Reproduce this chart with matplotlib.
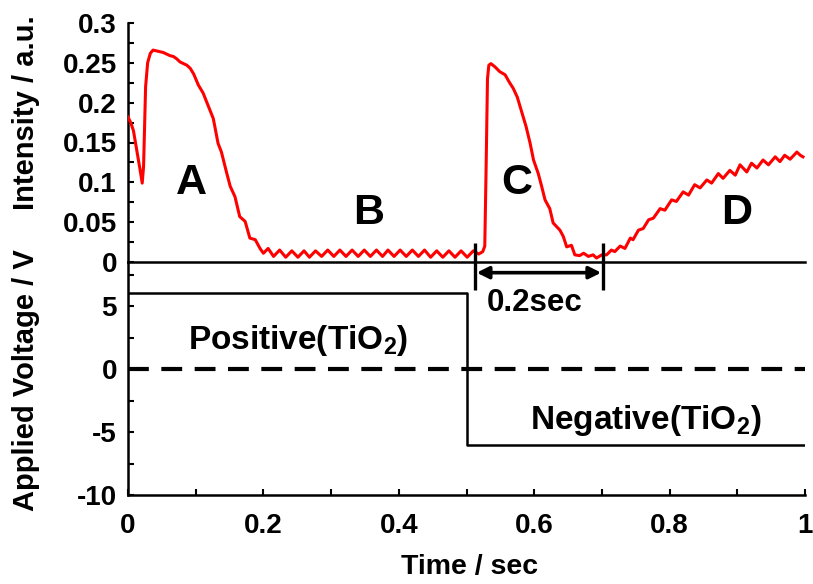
import matplotlib
matplotlib.use("Agg")
import matplotlib.pyplot as plt
from matplotlib.ticker import MultipleLocator

plt.rcParams['font.family'] = ['Liberation Sans', 'DejaVu Sans']
plt.rcParams['font.weight'] = 'bold'
plt.rcParams['mathtext.fontset'] = 'custom'
plt.rcParams['mathtext.rm'] = 'Liberation Sans:bold'
plt.rcParams['mathtext.it'] = 'Liberation Sans:bold'
plt.rcParams['mathtext.bf'] = 'Liberation Sans:bold'

# ---- data ----
time_s = [
    0.000, 0.004, 0.008, 0.013, 0.018, 0.021, 0.023, 0.026, 0.029, 0.033,
    0.037, 0.042, 0.047, 0.052, 0.057, 0.062, 0.067, 0.072, 0.077, 0.082,
    0.087, 0.092, 0.097, 0.104, 0.111, 0.119, 0.126, 0.133, 0.138, 0.146,
    0.151, 0.158, 0.165, 0.173, 0.180, 0.188, 0.195, 0.200, 0.207,
    0.215, 0.224, 0.233, 0.242, 0.251, 0.260, 0.268, 0.277, 0.286, 0.295,
    0.304, 0.313, 0.322, 0.331, 0.340, 0.349, 0.358, 0.367, 0.376, 0.384,
    0.393, 0.402, 0.411, 0.420, 0.429, 0.438, 0.447, 0.456, 0.465, 0.474,
    0.483, 0.492, 0.501, 0.510, 0.518, 0.524, 0.527, 0.529, 0.531, 0.533,
    0.536, 0.542, 0.549, 0.557, 0.563, 0.569, 0.575, 0.582, 0.588, 0.594,
    0.599, 0.606, 0.611, 0.616, 0.623, 0.628, 0.638, 0.643, 0.648, 0.655,
    0.660, 0.667, 0.673, 0.680, 0.687, 0.692, 0.700, 0.707, 0.714, 0.719,
    0.727, 0.734, 0.742, 0.746, 0.754, 0.761, 0.769, 0.776, 0.786, 0.793,
    0.803, 0.810, 0.820, 0.828, 0.837, 0.845, 0.855, 0.862, 0.872, 0.879,
    0.889, 0.897, 0.904, 0.914, 0.921, 0.929, 0.938, 0.946, 0.956, 0.963,
    0.970, 0.978, 0.988, 0.993, 0.997,
]
intensity = [
    0.182, 0.175, 0.165, 0.140, 0.115, 0.099, 0.120, 0.220, 0.250, 0.262,
    0.266, 0.265, 0.264, 0.263, 0.261, 0.259, 0.258, 0.255, 0.251, 0.249,
    0.247, 0.243, 0.236, 0.222, 0.212, 0.195, 0.180, 0.149, 0.138, 0.111,
    0.095, 0.082, 0.057, 0.051, 0.030, 0.028, 0.017, 0.011, 0.017,
    0.007, 0.015, 0.006, 0.014, 0.006, 0.014, 0.006, 0.014, 0.007, 0.015,
    0.007, 0.015, 0.007, 0.015, 0.007, 0.015, 0.007, 0.015, 0.007, 0.015,
    0.007, 0.015, 0.007, 0.015, 0.007, 0.015, 0.006, 0.014, 0.006, 0.014,
    0.006, 0.014, 0.006, 0.014, 0.010, 0.013, 0.020, 0.120, 0.230, 0.247,
    0.249, 0.245, 0.239, 0.235, 0.226, 0.218, 0.207, 0.187, 0.170, 0.149,
    0.128, 0.111, 0.095, 0.078, 0.067, 0.049, 0.040, 0.032, 0.019, 0.021,
    0.009, 0.008, 0.011, 0.007, 0.009, 0.005, 0.009, 0.009, 0.015, 0.013,
    0.020, 0.017, 0.030, 0.028, 0.040, 0.042, 0.053, 0.055, 0.067, 0.065,
    0.078, 0.076, 0.088, 0.084, 0.097, 0.093, 0.103, 0.099, 0.111, 0.105,
    0.115, 0.109, 0.122, 0.113, 0.124, 0.118, 0.128, 0.122, 0.132, 0.126,
    0.134, 0.129, 0.138, 0.134, 0.132,
]

volt_time = [0.0, 0.5, 0.5, 1.0]
voltage = [6.0, 6.0, -6.0, -6.0]
zero_line_time = [0.0, 1.0]
zero_line_v = [0.0, 0.0]

regions = ['A', 'B', 'C', 'D']
region_t = [0.094, 0.355, 0.574, 0.899]
region_i = [0.0995, 0.061, 0.099, 0.061]

bar_t = [0.513, 0.701]

top_yticks = [0, 0.05, 0.1, 0.15, 0.2, 0.25, 0.3]
top_ylabels = ['0', '0.05', '0.1', '0.15', '0.2', '0.25', '0.3']
bot_yticks = [-10, -5, 0, 5]
bot_ylabels = ['-10', '-5', '0', '5']
xticks = [0, 0.2, 0.4, 0.6, 0.8, 1.0]
xlabels = ['0', '0.2', '0.4', '0.6', '0.8', '1']

# ---- figure ----
W, H = 813, 584
fig = plt.figure(figsize=(W / 100, H / 100), dpi=100)
L, R = 128 / W, 805 / W
ax1 = fig.add_axes([L, 1 - 262 / H, R - L, (262 - 23) / H])
ax2 = fig.add_axes([L, 1 - 495 / H, R - L, (495 - 262) / H])

lw_sp = 1.8
for ax in (ax1, ax2):
    for s in ('top', 'right'):
        ax.spines[s].set_visible(False)
    for s in ('left', 'bottom'):
        ax.spines[s].set_linewidth(lw_sp)
    ax.set_xlim(0, 1)
    ax.patch.set_alpha(0)

# top axes
ax1.plot(time_s, intensity, color='#ff0000', lw=2.2, zorder=3)
ax1.set_ylim(0, 0.3)
ax1.set_yticks(top_yticks)
ax1.set_yticklabels(top_ylabels)
ax1.yaxis.set_minor_locator(MultipleLocator(0.025))
ax1.tick_params(axis='y', which='both', direction='in', length=4, width=1.5,
                labelsize=20, pad=8)
ax1.tick_params(axis='x', which='both', bottom=False, labelbottom=False)

for lab, t, i in zip(regions, region_t, region_i):
    ax1.text(t, i, lab, fontsize=31, fontweight='bold', ha='center', va='center')

# 0.2 sec markers
for t in bar_t:
    ax1.plot([t, t], [0.024, -0.035], color='k', lw=2.4, clip_on=False,
             solid_capstyle='butt', zorder=5)
ax1.annotate('', xy=(bar_t[0], -0.0134), xytext=(bar_t[1], -0.0134),
             arrowprops=dict(arrowstyle='<|-|>', lw=2.6, color='k',
                             mutation_scale=18, shrinkA=1, shrinkB=1),
             annotation_clip=False, zorder=5)
ax1.text(0.601, -0.051, '0.2sec', fontsize=22.5, fontweight='bold',
         ha='center', va='center', clip_on=False)

# bottom axes
ax2.plot(volt_time, voltage, color='k', lw=1.8, zorder=3)
ax2.plot(zero_line_time, zero_line_v, color='k', lw=3.0, ls=(0, (5, 3)), zorder=2)
ax2.set_ylim(-10, 8.5)
ax2.set_yticks(bot_yticks)
ax2.set_yticklabels(bot_ylabels)
ax2.yaxis.set_minor_locator(MultipleLocator(2.5))
ax2.set_xticks(xticks)
ax2.set_xticklabels(xlabels)
ax2.xaxis.set_minor_locator(MultipleLocator(0.1))
ax2.tick_params(axis='both', which='both', direction='in', length=4, width=1.5,
                labelsize=20)
ax2.tick_params(axis='y', pad=8)
ax2.tick_params(axis='x', pad=13)

ax2.text(0.251, 2.3, 'Positive(TiO$_2$)', fontsize=24, fontweight='bold',
         ha='center', va='center')
ax2.text(0.764, -4.05, 'Negative(TiO$_2$)', fontsize=24, fontweight='bold',
         ha='center', va='center')

fig.text(26 / W, 1 - 113 / H, 'Intensity / a.u.', rotation=90, fontsize=21,
         fontweight='bold', ha='center', va='center')
fig.text(26 / W, 1 - 380 / H, 'Applied Voltage / V', rotation=90, fontsize=21,
         fontweight='bold', ha='center', va='center')
fig.text(470 / W, 1 - 567 / H, 'Time / sec', fontsize=20.5,
         fontweight='bold', ha='center', va='center')

fig.savefig('out.png', dpi=100)
